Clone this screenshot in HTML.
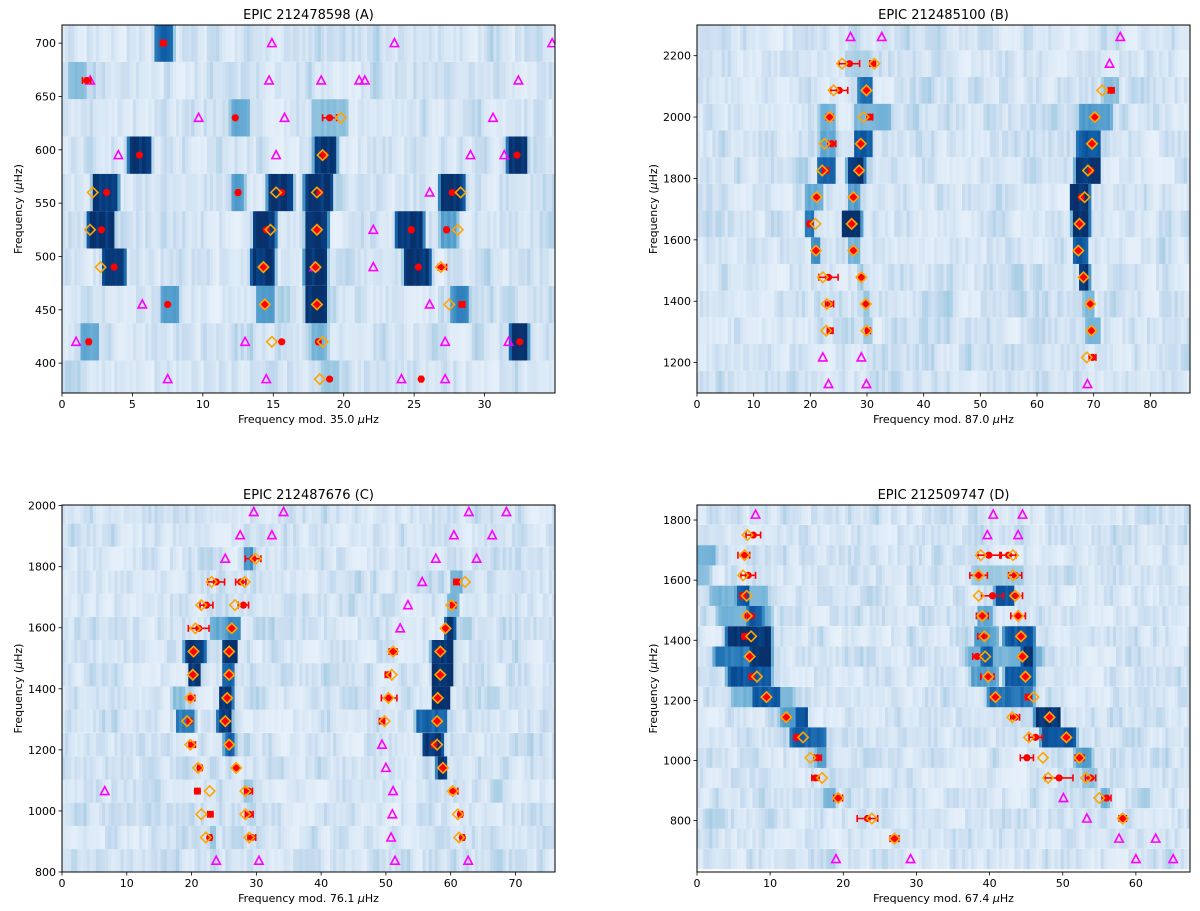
<!DOCTYPE html>
<html><head><meta charset="utf-8"><title>Echelle diagrams</title>
<style>
html,body{margin:0;padding:0;background:#fff;}
svg{display:block;font-family:"DejaVu Sans","Liberation Sans",sans-serif;}
</style></head>
<body>
<svg id="fig" width="1200" height="911" viewBox="0 0 1200 911" xmlns="http://www.w3.org/2000/svg"></svg>
<script>
// ---------- Panel A data ----------
const aRows=[385,420,455,490,525,560,595,630,665,700];
const aCirc=[[700,7.19,0.2],[665,1.75,0.3],[630,12.3,0],[630,19.0,0.5],[595,5.5,0],[595,18.6,0.2],[595,32.3,0],
[560,3.17,0],[560,12.5,0.1],[560,15.6,0],[560,18.3,0],[560,27.7,0],[525,2.8,0],[525,14.5,0],[525,18.1,0],[525,24.8,0.1],[525,27.3,0.1],
[490,3.7,0],[490,14.3,0],[490,18.0,0],[490,25.3,0],[490,27.0,0.3],[455,7.5,0],[455,14.4,0.1],[455,18.1,0],[455,28.4,0.2],
[420,1.9,0.1],[420,15.6,0],[420,18.2,0.1],[420,32.5,0],[385,19.0,0],[385,25.5,0.1]];
const aDiam=[[630,19.8],[595,18.5],[560,2.18],[560,15.2],[560,18.1],[560,28.3],[525,1.99],[525,14.8],[525,18.1],[525,28.1],
[490,2.74],[490,14.3],[490,18.0],[490,26.9],[455,14.4],[455,18.1],[455,27.5],[420,14.9],[420,18.5],[385,18.3]];
const aTri=[[700,14.9],[700,23.6],[700,34.8],[665,2.0],[665,14.7],[665,18.4],[665,21.1],[665,21.5],[665,32.4],
[630,9.7],[630,15.8],[630,30.6],[595,4.0],[595,15.2],[595,29.0],[595,31.4],[560,26.1],[525,22.1],[490,17.9],[490,22.1],
[455,5.7],[455,26.1],[420,1.0],[420,13.0],[420,27.2],[420,31.7],[385,7.5],[385,14.5],[385,24.1],[385,27.2]];
const aBands=[[700,6.7,7.8,0.85],[665,0.5,1.7,0.45],[630,12.0,13.2,0.55],[630,17.8,20.2,0.45],
[595,4.8,6.2,1],[595,18.0,19.4,1],[595,31.7,32.9,1],
[560,2.3,3.9,1],[560,12.1,12.9,0.6],[560,14.7,16.3,1],[560,17.3,19.1,1],[560,26.9,28.5,1],
[525,1.9,3.6,1],[525,13.7,15.1,1],[525,17.4,18.8,1],[525,23.8,25.6,1],[525,26.9,28.0,0.6],
[490,3.0,4.4,1],[490,13.5,15.0,1],[490,17.3,18.7,1],[490,24.4,26.1,1],
[455,7.1,8.2,0.6],[455,13.9,15.0,0.6],[455,17.4,18.7,1],[455,27.7,28.8,0.7],
[420,1.4,2.5,0.55],[420,17.7,18.8,0.5],[420,31.9,33.0,1],[385,18.4,19.6,0.4]];
const aXTicks=[0,5,10,15,20,25,30];
const aYTicks=[400,450,500,550,600,650,700];

// ---------- Panel B data ----------
const bRows=[1130,1217,1304,1391,1478,1565,1652,1739,1826,1913,2000,2087,2174,2261];
const bCirc=[[2174,26.9,1.8],[2174,31.0,0.5],[2087,25.1,1.5],[2087,29.9,0.3],[2087,73.1,0.5],[2000,23.4,0.6],[2000,30.5,0.5],[2000,70.2,0.3],
[1913,23.8,0.7],[1913,28.9,0.4],[1913,69.7,0.3],[1826,22.7,0.5],[1826,28.6,0.3],[1826,69.5,0.3],[1739,21.1,0.4],[1739,27.6,0.4],[1739,67.8,0.3],
[1652,19.9,0.3],[1652,27.3,0.3],[1652,67.5,0.3],[1565,21.0,0.4],[1565,27.6,0.4],[1565,67.3,0.3],[1478,23.2,1.7],[1478,29.0,0.4],[1478,68.2,0.3],
[1391,23.4,0.7],[1391,29.8,0.4],[1391,69.4,0.3],[1304,23.5,0.5],[1304,30.2,0.4],[1304,69.6,0.4],[1217,69.8,0.6]];
const bDiam=[[2174,25.6],[2174,31.3],[2087,24.1],[2087,29.9],[2087,71.5],[2000,23.4],[2000,29.4],[2000,70.2],[1913,22.5],[1913,28.9],[1913,69.7],
[1826,22.1],[1826,28.6],[1826,69.0],[1739,21.1],[1739,27.6],[1739,68.4],[1652,20.9],[1652,27.3],[1652,67.5],[1565,21.0],[1565,27.6],[1565,67.3],
[1478,22.2],[1478,29.0],[1478,68.2],[1391,22.9],[1391,29.8],[1391,69.4],[1304,22.8],[1304,29.9],[1304,69.6],[1217,68.8]];
const bTri=[[2261,27.1],[2261,32.6],[2261,74.7],[2174,72.8],[1217,22.2],[1217,29.0],[1130,23.2],[1130,29.9],[1130,68.9]];
const bBands=[[2174,26.3,30.4,0.35],[2087,28.6,30.7,0.85],[2087,71.6,74.5,0.45],[2000,21.6,24.5,0.5],[2000,28.0,34.0,0.5],[2000,67.5,73.0,0.6],
[1913,21.6,24.5,0.55],[1913,27.8,30.7,0.9],[1913,67.2,71.0,0.9],[1826,21.3,24.2,0.85],[1826,26.6,29.5,1],[1826,66.9,71.0,1],
[1739,19.2,22.2,0.55],[1739,26.6,28.6,0.6],[1739,66.0,69.2,1],[1652,19.2,20.7,0.75],[1652,25.7,28.9,1],[1652,66.3,69.2,1],
[1565,20.4,21.6,0.65],[1565,26.8,28.6,0.5],[1565,66.6,68.9,0.9],[1478,67.5,69.2,0.95],[1478,28.6,29.5,0.4],
[1391,29.2,30.4,0.4],[1391,68.3,70.1,0.5],[1304,29.5,30.7,0.4],[1304,68.6,71.0,0.5]];
const bXTicks=[0,10,20,30,40,50,60,70,80];
const bYTicks=[1200,1400,1600,1800,2000,2200];

// ---------- Panel C data ----------
const cRows=[837,913,989,1065,1141,1217,1294,1370,1446,1522,1598,1674,1750,1826,1903,1979];
const cCirc=[[1826,29.5,1.2],[1750,23.8,1.3],[1750,27.6,0.8],[1750,60.9,0.4],[1674,22.3,1.0],[1674,28.0,0.8],[1674,60.4,0.4],
[1598,21.1,1.6],[1598,26.2,0.3],[1598,59.2,0.3],[1522,20.3,0.4],[1522,25.8,0.3],[1522,51.1,0.6],[1522,58.4,0.3],
[1446,20.2,0.3],[1446,25.8,0.3],[1446,50.3,0.4],[1446,58.4,0.3],[1370,20.0,0.5],[1370,25.5,0.3],[1370,50.5,1.2],[1370,58.0,0.3],
[1294,19.7,0.3],[1294,25.2,0.3],[1294,49.4,0.4],[1294,57.9,0.3],[1217,20.1,0.5],[1217,25.8,0.3],[1217,57.4,0.3],
[1141,21.3,0.3],[1141,26.9,0.3],[1141,58.8,0.3],[1065,20.9,0.4],[1065,28.8,0.6],[1065,60.5,0.6],
[989,22.9,0.4],[989,28.9,0.6],[989,61.5,0.3],[913,22.8,0.3],[913,29.3,0.6],[913,61.8,0.3]];
const cDiam=[[1826,29.9],[1750,23.1],[1750,28.2],[1750,62.2],[1674,21.5],[1674,26.7],[1674,60.1],[1598,20.6],[1598,26.2],[1598,59.2],
[1522,20.3],[1522,25.8],[1522,51.1],[1522,58.4],[1446,20.2],[1446,25.8],[1446,50.9],[1446,58.4],[1370,19.8],[1370,25.5],[1370,50.4],[1370,58.0],
[1294,19.3],[1294,25.2],[1294,49.8],[1294,57.9],[1217,19.8],[1217,25.8],[1217,57.9],[1141,21.0],[1141,26.9],[1141,58.8],
[1065,22.8],[1065,28.3],[1065,60.3],[989,21.5],[989,28.3],[989,61.1],[913,22.2],[913,28.9],[913,61.3]];
const cTri=[[1979,29.6],[1979,34.2],[1979,62.8],[1979,68.6],[1903,27.5],[1903,32.4],[1903,60.5],[1903,66.4],[1826,25.2],[1826,57.7],[1826,64.0],
[1750,55.6],[1674,53.4],[1598,52.2],[1217,49.4],[1141,50.0],[1065,6.6],[1065,51.1],[989,51.0],[913,50.8],[837,23.8],[837,30.4],[837,51.4],[837,62.7]];
const cBands=[[1826,28.3,29.6,0.65],[1750,60.0,61.8,0.5],[1674,59.5,61.2,0.5],[1598,23.1,25.0,0.55],[1598,25.5,27.5,0.7],[1598,59.3,60.6,0.95],
[1522,19.0,22.0,0.95],[1522,24.9,27.0,0.95],[1522,57.1,60.2,0.95],[1446,19.7,21.3,1],[1446,24.9,26.5,0.85],[1446,57.2,60.3,1],
[1370,17.0,19.0,0.45],[1370,24.5,26.3,1],[1370,57.2,59.7,1],[1294,17.7,20.5,0.75],[1294,24.1,26.2,0.95],[1294,54.8,59.2,0.85],
[1217,25.1,26.7,0.85],[1217,55.8,58.7,1],[1141,57.9,59.4,0.95],[1065,28.2,29.6,0.4],[913,22.8,23.8,0.4]];
const cXTicks=[0,10,20,30,40,50,60,70];
const cYTicks=[800,1000,1200,1400,1600,1800,2000];

// ---------- Panel D data ----------
const dRows=[672,740,807,875,942,1009,1077,1144,1211,1279,1346,1413,1481,1548,1616,1683,1750,1818];
const dCirc=[[1750,7.7,1.0],[1683,6.4,0.8],[1683,39.9,1.5],[1683,42.6,1.0],[1616,7.0,1.0],[1616,38.5,1.2],[1616,43.5,0.9],
[1548,6.3,0.4],[1548,40.4,1.5],[1548,43.7,0.8],[1481,7.2,0.6],[1481,39.0,0.8],[1481,43.9,1.0],[1413,6.5,0.3],[1413,39.0,0.6],[1413,44.3,0.5],
[1346,7.2,0.3],[1346,38.3,0.6],[1346,44.5,0.4],[1279,7.5,0.3],[1279,39.7,0.9],[1279,44.9,0.4],[1211,9.5,0.3],[1211,40.7,0.5],[1211,45.3,0.4],
[1144,12.2,0.4],[1144,43.5,0.6],[1144,48.2,0.4],[1077,13.6,0.3],[1077,46.3,0.9],[1077,50.5,0.4],[1009,16.5,0.5],[1009,45.1,0.9],[1009,52.3,0.6],
[942,16.2,0.5],[942,49.5,1.9],[942,53.8,0.7],[875,19.3,0.6],[875,56.0,0.6],[807,23.3,1.4],[807,58.2,0.5],[740,27.0,0.6]];
const dDiam=[[1750,6.9],[1683,6.5],[1683,38.8],[1683,43.2],[1616,6.3],[1616,38.5],[1616,43.2],[1548,6.8],[1548,38.5],[1548,43.5],
[1481,6.8],[1481,39.0],[1481,43.9],[1413,7.4],[1413,39.3],[1413,44.3],[1346,7.2],[1346,39.4],[1346,44.5],[1279,8.2],[1279,39.8],[1279,44.9],
[1211,9.5],[1211,40.8],[1211,46.0],[1144,12.2],[1144,43.1],[1144,48.2],[1077,14.5],[1077,45.4],[1077,50.5],[1009,15.5],[1009,47.3],[1009,52.3],
[942,17.1],[942,48.0],[942,53.2],[875,19.3],[875,55.0],[807,23.9],[807,58.2],[740,27.0]];
const dTri=[[1818,8.0],[1818,40.5],[1818,44.5],[1750,39.7],[1750,43.9],[875,50.1],[807,53.3],[740,57.7],[740,62.7],[672,19.0],[672,29.2],[672,60.0],[672,65.1]];
const dBands=[[1683,0.1,2.6,0.5],[1616,0.1,1.8,0.45],[1616,37.8,44.5,0.4],[1548,5.4,7.2,0.9],[1548,40.8,43.3,0.9],[1548,2.0,9.5,0.5],
[1481,7.0,9.0,0.9],[1481,3.0,10.0,0.5],[1481,38.5,40.5,0.55],[1413,4.2,9.9,0.95],[1413,42.1,46.0,0.9],[1413,38.0,41.0,0.6],
[1346,2.6,10.0,0.75],[1346,7.4,9.9,1],[1346,39.0,40.4,0.9],[1346,44.5,46.0,0.95],[1346,37.0,47.0,0.5],
[1279,4.4,9.9,0.9],[1279,42.2,46.0,0.85],[1279,37.5,41.0,0.6],[1211,7.6,11.3,0.9],[1211,40.0,45.8,0.8],[1211,5.0,13.0,0.5],
[1144,11.3,13.5,0.6],[1144,13.5,15.1,0.9],[1144,46.3,49.5,1],[1077,12.9,17.4,0.85],[1077,47.2,51.7,0.9],
[1009,16.3,17.6,0.6],[1009,51.7,54.0,0.6],[942,52.6,54.5,0.45],[875,17.2,19.0,0.5],[875,55.4,56.5,0.5]];
const dXTicks=[0,10,20,30,40,50,60];
const dYTicks=[800,1000,1200,1400,1600,1800];

// ---------- rendering ----------
const NS="http://www.w3.org/2000/svg";
const fig=document.getElementById('fig');
const STOPS=[[0,[247,251,255]],[0.125,[222,235,247]],[0.25,[198,219,239]],[0.375,[158,202,225]],[0.5,[107,174,214]],[0.625,[66,146,198]],[0.75,[33,113,181]],[0.875,[8,81,156]],[1,[8,48,107]]];
function blues(v){v=Math.max(0,Math.min(1,v));for(let i=1;i<STOPS.length;i++){if(v<=STOPS[i][0]){const a=STOPS[i-1],b=STOPS[i];const t=(v-a[0])/(b[0]-a[0]);const c=a[1].map((x,k)=>Math.round(x+(b[1][k]-x)*t));return 'rgb('+c.join(',')+')';}}return 'rgb(8,48,107)';}
function hash(a,b){let h=(a*374761393+b*668265263)>>>0;h=((h^(h>>>13))*1274126177)>>>0;return ((h^(h>>>16))>>>0)/4294967295;}
function mk(tag,attrs,parent){const e=document.createElementNS(NS,tag);for(const k in attrs)e.setAttribute(k,attrs[k]);(parent||fig).appendChild(e);return e;}

function panel(id,L,R,T,B,xmax,ymin,ymax,rowH,rows,circ,diam,tri,bands,xt,yt,title,xlabel){
  const sx=x=>L+x/xmax*(R-L);
  const sy=f=>B-(f-ymin)/(ymax-ymin)*(B-T);
  const g=mk('g',{});
  
  
  const clip=mk('clipPath',{id:'clip'+id},g);
  mk('rect',{x:L,y:T,width:R-L,height:B-T},clip);
  const hm=mk('g',{'clip-path':'url(#clip'+id+')'},g);
  
  
  const NC=160;
  rows.forEach((f,ri)=>{
    const y0=sy(f+rowH/2), y1=sy(f-rowH/2);
    const rb=bands.filter(b=>b[0]===f);
    let prev=0.2;
    for(let c=0;c<NC;c++){
      const x=(c+0.5)/NC*xmax;
      const r=hash(ri*7+id.charCodeAt(0),c);
      let v=0.07+0.33*r*r; v=0.5*v+0.5*prev; prev=v;
      rb.forEach(b=>{
        const w=b[2]-b[1], m=Math.max(0.35,w*0.15);
        let t=0;
        if(x>=b[1]&&x<=b[2])t=1; else if(x<b[1]&&x>b[1]-m)t=1-(b[1]-x)/m; else if(x>b[2]&&x<b[2]+m)t=1-(x-b[2])/m;
        const lv=b[3]>=0.95?1.05:b[3];
        v=Math.max(v,t*lv*(0.88+0.12*r));
      });
      const cell=mk('rect',{x:sx(c/NC*xmax),y:y0,width:(R-L)/NC+0.6,height:y1-y0,fill:blues(v)},hm);
      
      
    }
  });
  // markers
  const mg=mk('g',{'clip-path':'url(#clip'+id+')'},g);
  tri.forEach(p=>{const x=sx(p[1]),y=sy(p[0]);
    const t=mk('polygon',{points:`${x},${y-4.5} ${x-4.2},${y+3.5} ${x+4.2},${y+3.5}`,fill:'none',stroke:'#ff00ff','stroke-width':1.6},mg);
    
    });
  circ.forEach(p=>{const x=sx(p[1]),y=sy(p[0]);
    if(p[2]>0){const xa=sx(p[1]-p[2]),xb=sx(p[1]+p[2]);
      const eb=mk('path',{d:`M${xa},${y}H${xb}M${xa},${y-3.5}V${y+3.5}M${xb},${y-3.5}V${y+3.5}`,stroke:'#ff0000','stroke-width':1.6,fill:'none'},mg);
      
      }
    const c=mk('circle',{cx:x,cy:y,r:3.6,fill:'#ff0000'},mg);
    
    });
  diam.forEach(p=>{const x=sx(p[1]),y=sy(p[0]);
    const d=mk('polygon',{points:`${x},${y-5.2} ${x+5.2},${y} ${x},${y+5.2} ${x-5.2},${y}`,fill:'none',stroke:'#ffa500','stroke-width':1.6},mg);
    
    });
  // frame
  const fr=mk('rect',{x:L,y:T,width:R-L,height:B-T,fill:'none',stroke:'#000','stroke-width':1},g);
  
  
  xt.forEach(v=>{const x=sx(v);mk('line',{x1:x,x2:x,y1:B,y2:B+3.5,stroke:'#000','stroke-width':0.8},g);
    const t=mk('text',{x:x,y:B+15,'font-size':11,'text-anchor':'middle',fill:'#000'},g);t.textContent=v;
    
    });
  yt.forEach(v=>{const y=sy(v);mk('line',{x1:L-3.5,x2:L,y1:y,y2:y,stroke:'#000','stroke-width':0.8},g);
    const t=mk('text',{x:L-6,y:y+4,'font-size':11,'text-anchor':'end',fill:'#000'},g);t.textContent=v;
    
    });
  const tt=mk('text',{x:(L+R)/2,y:T-6,'font-size':13,'text-anchor':'middle',fill:'#000'},g);tt.textContent=title;
  
  
  const xl=mk('text',{x:(L+R)/2,y:B+30,'font-size':11,'text-anchor':'middle',fill:'#000'},g);
  xl.innerHTML=xlabel+' <tspan font-style="italic">μ</tspan>Hz';
  
  
  const yl=mk('text',{x:0,y:0,'font-size':11,'text-anchor':'middle',fill:'#000',transform:`translate(${L-40},${(T+B)/2}) rotate(-90)`},g);
  yl.innerHTML='Frequency (<tspan font-style="italic">μ</tspan>Hz)';
  
  
}
panel('A',62,555,25,393,35,372,717,35,aRows,aCirc,aDiam,aTri,aBands,aXTicks,aYTicks,'EPIC 212478598 (A)','Frequency mod. 35.0');
panel('B',697,1190,25,393,87,1101,2300,87,bRows,bCirc,bDiam,bTri,bBands,bXTicks,bYTicks,'EPIC 212485100 (B)','Frequency mod. 87.0');
panel('C',62,555,505,872,76.1,800,2002,76.1,cRows,cCirc,cDiam,cTri,cBands,cXTicks,cYTicks,'EPIC 212487676 (C)','Frequency mod. 76.1');
panel('D',697,1190,505,872,67.4,629,1850,67.4,dRows,dCirc,dDiam,dTri,dBands,dXTicks,dYTicks,'EPIC 212509747 (D)','Frequency mod. 67.4');
</script>
</body></html>
